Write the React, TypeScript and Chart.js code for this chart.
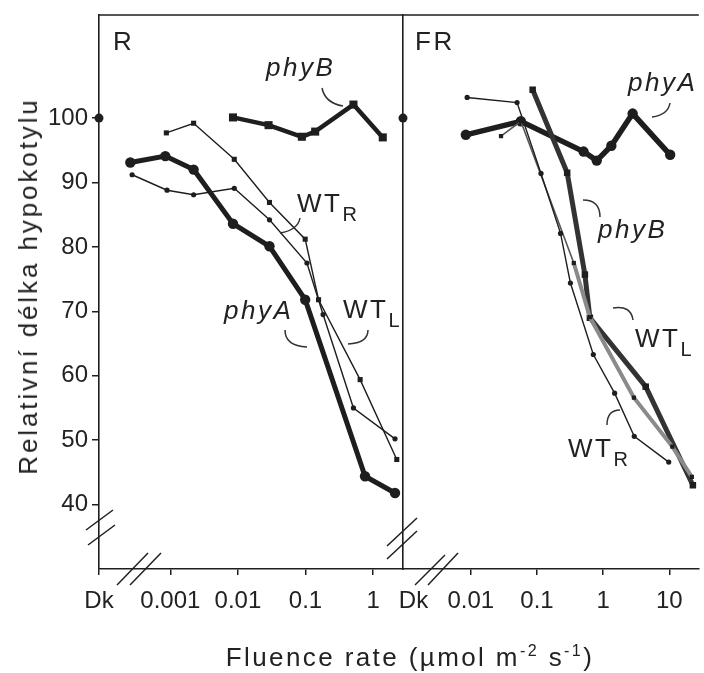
import React, { useEffect, useRef } from 'react';
import { Chart, registerables } from 'chart.js';
Chart.register(...registerables);

// ---------------- data ----------------
// Red light panel (R): fluence rate (µmol m-2 s-1) and relative hypocotyl length (%)
const rDk = 8.8e-5; // position used for the dark control (Dk)
const rMax = 2.77;
const rXTicks = [rDk, 0.001, 0.01, 0.1, 1];
const rXLabels = ['Dk', '0.001', '0.01', '0.1', '1'];

const rPhyAx = [0.000256, 0.000843, 0.00221, 0.00845, 0.0293, 0.0989, 0.76, 2.11];
const rPhyAy = [93.1, 94.1, 92.0, 83.6, 80.1, 71.8, 44.4, 41.8];
const rPhyBx = [0.00845, 0.0284, 0.0883, 0.139, 0.512, 1.39];
const rPhyBy = [100.1, 98.9, 97.1, 97.9, 102.1, 97.0];
const rWTRx = [0.000873, 0.00221, 0.00883, 0.0293, 0.0989, 0.156, 0.643, 2.24];
const rWTRy = [97.7, 99.2, 93.6, 86.9, 81.2, 71.8, 59.4, 47.0];
const rWTLx = [0.000272, 0.000894, 0.00221, 0.00883, 0.0293, 0.105, 0.182, 0.512, 2.11];
const rWTLy = [91.2, 88.8, 88.1, 89.1, 84.2, 77.5, 69.5, 55.0, 50.2];

// Far-red panel (FR)
const frDk = 9.44e-4;
const frDkLabel = 1.36e-3; // where the "Dk" tick label sits
const frMax = 27.9;
const frXTicks = [frDkLabel, 0.01, 0.1, 1, 10];
const frXLabels = ['Dk', '0.01', '0.1', '1', '10'];

const frPhyAx = [0.0084, 0.057, 0.506, 0.8, 1.33, 2.79, 10.3];
const frPhyAy = [97.4, 99.5, 94.8, 93.4, 95.7, 100.7, 94.3];
const frPhyBx = [0.086, 0.286, 0.53, 0.63, 4.4, 22.7];
const frPhyBy = [104.4, 91.5, 75.7, 69.0, 58.3, 43.0];
const frWTLx = [0.0286, 0.057, 0.36, 0.63, 2.92, 11.1, 21.9];
const frWTLy = [97.2, 99.5, 77.5, 69.1, 56.6, 49.0, 44.3];
const frWTRx = [0.0088, 0.05, 0.115, 0.227, 0.32, 0.71, 1.49, 2.95, 9.8];
const frWTRy = [103.2, 102.4, 91.4, 82.1, 74.4, 63.3, 57.3, 50.6, 46.6];

const dkValue = 100;
const yTicks = [40, 50, 60, 70, 80, 90, 100];
const yMin = 30;
const yMax = 116;

// ---------------- styling ----------------
const INK = '#1e1e1e';
const TXT = '#222';
const FONT = '"Liberation Sans", Arial, Helvetica, sans-serif';
const W = 704;
const H = 673;
const PANEL_SPLIT = 403;
const AXIS_LEFT = 99;
const PLOT_TOP = 15;
const PLOT_BOTTOM = 569;

type Note = { t: string; sub?: string; x: number; y: number; italic?: boolean };
type Seg = [number, number, number, number];
type Curve = [number, number, number, number, number, number];

const rNotes: Note[] = [
  { t: 'R', x: 113, y: 50 },
  { t: 'phyB', x: 266, y: 76, italic: true },
  { t: 'WT', sub: 'R', x: 297, y: 212 },
  { t: 'phyA', x: 224, y: 319, italic: true },
  { t: 'WT', sub: 'L', x: 343, y: 318 },
];
const frNotes: Note[] = [
  { t: 'FR', x: 415, y: 50 },
  { t: 'phyA', x: 628, y: 91, italic: true },
  { t: 'phyB', x: 598, y: 238, italic: true },
  { t: 'WT', sub: 'L', x: 635, y: 347 },
  { t: 'WT', sub: 'R', x: 568, y: 457 },
];
const rLeaders: Curve[] = [
  [322, 88, 325, 103, 343, 106],
  [300, 218, 298, 230, 280, 233],
  [285, 330, 285, 346, 307, 347],
  [368, 330, 368, 343, 348, 344],
];
const frLeaders: Curve[] = [
  [670, 103, 668, 115, 652, 117],
  [583, 200, 600, 200, 600, 217],
  [613, 308, 631, 305, 633, 320],
  [620, 410, 607, 410, 607, 425],
];
const rBreaks: Seg[] = [
  [86, 530, 113, 510],
  [88, 545, 115, 525],
  [117, 585, 148, 553],
  [130, 585, 161, 553],
];
const frBreaks: Seg[] = [
  [387, 546, 417, 518],
  [387, 559, 417, 531],
  [415, 585, 445, 555],
  [428, 585, 458, 553],
];

const pts = (xs: number[], ys: number[]) => xs.map((x, i) => ({ x, y: ys[i] }));

function line(data: { x: number; y: number }[], width: number, style: string, radius: number, color = INK) {
  return {
    data,
    borderColor: color,
    borderWidth: width,
    pointStyle: style,
    pointRadius: radius,
    pointBackgroundColor: INK,
    pointBorderColor: INK,
    pointBorderWidth: 0,
    tension: 0,
    clip: false as const,
  };
}

function decor(notes: Note[], leaders: Curve[], breaks: Seg[]) {
  return {
    id: 'decor',
    afterDraw(chart: any) {
      const { ctx, chartArea: a } = chart;
      ctx.save();
      ctx.strokeStyle = INK;
      ctx.lineWidth = 1.6;
      ctx.beginPath();
      ctx.moveTo(a.left, a.top);
      ctx.lineTo(a.right, a.top);
      ctx.stroke();
      ctx.lineWidth = 1.5;
      for (const [x1, y1, x2, y2] of breaks) {
        ctx.beginPath();
        ctx.moveTo(x1, y1);
        ctx.lineTo(x2, y2);
        ctx.stroke();
      }
      ctx.strokeStyle = '#333';
      for (const [x1, y1, cx, cy, x2, y2] of leaders) {
        ctx.beginPath();
        ctx.moveTo(x1, y1);
        ctx.quadraticCurveTo(cx, cy, x2, y2);
        ctx.stroke();
      }
      ctx.fillStyle = TXT;
      ctx.textBaseline = 'alphabetic';
      ctx.textAlign = 'left';
      try { (ctx as any).letterSpacing = '2.5px'; } catch (e) { /* ignore */ }
      for (const n of notes) {
        ctx.font = `${n.italic ? 'italic ' : ''}26px ${FONT}`;
        ctx.fillText(n.t, n.x, n.y);
        if (n.sub) {
          const w = ctx.measureText(n.t).width;
          ctx.font = `20px ${FONT}`;
          ctx.fillText(n.sub, n.x + w, n.y + 9);
        }
      }
      ctx.restore();
    },
  };
}

function xScale(min: number, max: number, ticks: number[], labels: string[], hideFirstTick: boolean) {
  return {
    type: 'logarithmic' as const,
    min,
    max,
    afterBuildTicks: (s: any) => {
      s.ticks = ticks.map((v) => ({ value: v }));
    },
    afterFit: (s: any) => {
      s.height = H - PLOT_BOTTOM;
      s.paddingLeft = 0;
      s.paddingRight = 0;
      s.paddingTop = 0;
      s.paddingBottom = 0;
    },
    ticks: {
      autoSkip: false,
      maxRotation: 0,
      minRotation: 0,
      padding: 12,
      color: TXT,
      font: { family: FONT, size: 24 },
      callback: (_v: any, i: number) => labels[i],
    },
    grid: {
      drawOnChartArea: false,
      drawTicks: true,
      tickLength: 6,
      color: INK,
      tickColor: (c: any) => (hideFirstTick && c.index === 0 ? 'rgba(0,0,0,0)' : INK),
      lineWidth: 1.5,
    },
    border: { display: true, color: INK, width: 1.6 },
  };
}

export default function App() {
  const leftRef = useRef<HTMLCanvasElement>(null);
  const rightRef = useRef<HTMLCanvasElement>(null);

  useEffect(() => {
    const common = {
      animation: false as const,
      responsive: false,
      maintainAspectRatio: false,
      events: [] as any[],
      plugins: { legend: { display: false }, tooltip: { enabled: false } },
    };

    const wtlFR = line(pts(frWTLx, frWTLy), 4, 'rect', 3, '#8a8a8a') as any;
    wtlFR.segment = { borderWidth: (c: any) => (c.p0DataIndex < 2 ? 1.6 : 4), borderColor: (c: any) => (c.p0DataIndex < 2 ? '#555' : '#8a8a8a') };

    const left = new Chart(leftRef.current!, {
      type: 'line',
      data: {
        datasets: [
          line(pts(rWTLx, rWTLy), 1.4, 'circle', 2.6),
          line(pts(rWTRx, rWTRy), 1.4, 'rect', 3.6),
          line(pts(rPhyBx, rPhyBy), 4.5, 'rect', 5.7),
          line(pts(rPhyAx, rPhyAy), 5, 'circle', 5.2),
          { ...line([{ x: rDk, y: dkValue }], 0, 'circle', 4.5), showLine: false },
        ] as any,
      },
      options: {
        ...common,
        layout: { padding: { left: 0, right: W - PANEL_SPLIT, top: PLOT_TOP, bottom: 0 } },
        scales: {
          x: xScale(rDk, rMax, rXTicks, rXLabels, false),
          y: {
            type: 'linear',
            min: yMin,
            max: yMax,
            afterBuildTicks: (s: any) => {
              s.ticks = yTicks.map((v) => ({ value: v }));
            },
            afterFit: (s: any) => {
              s.width = AXIS_LEFT;
              s.paddingTop = 0;
              s.paddingBottom = 0;
              s.paddingLeft = 0;
              s.paddingRight = 0;
            },
            ticks: { padding: 4, color: TXT, font: { family: FONT, size: 24 } },
            grid: { drawOnChartArea: false, drawTicks: true, tickLength: 7, color: INK, lineWidth: 1.5 },
            border: { display: true, color: INK, width: 1.6 },
          },
        },
      } as any,
      plugins: [decor(rNotes, rLeaders, rBreaks)],
    });

    const right = new Chart(rightRef.current!, {
      type: 'line',
      data: {
        datasets: [
          line(pts(frWTRx, frWTRy), 1.4, 'circle', 2.6),
          wtlFR,
          line(pts(frPhyBx, frPhyBy), 5, 'rect', 4.6, '#333'),
          line(pts(frPhyAx, frPhyAy), 5.5, 'circle', 5.2),
          { ...line([{ x: frDk, y: dkValue }], 0, 'circle', 4.5), showLine: false },
        ] as any,
      },
      options: {
        ...common,
        layout: { padding: { left: PANEL_SPLIT, right: 0, top: PLOT_TOP, bottom: 0 } },
        scales: {
          x: xScale(frDk, frMax, frXTicks, frXLabels, true),
          y: {
            type: 'linear',
            min: yMin,
            max: yMax,
            afterFit: (s: any) => {
              s.width = 0;
              s.paddingTop = 0;
              s.paddingBottom = 0;
              s.paddingLeft = 0;
              s.paddingRight = 0;
            },
            ticks: { display: false },
            grid: { drawOnChartArea: false, drawTicks: false },
            border: { display: true, color: INK, width: 1.6 },
          },
        },
      } as any,
      plugins: [decor(frNotes, frLeaders, frBreaks)],
    });

    return () => {
      left.destroy();
      right.destroy();
    };
  }, []);

  return (
    <div style={{ position: 'absolute', left: 0, top: 0, width: W, height: H, background: '#fff', overflow: 'hidden' }}>
      <canvas ref={leftRef} width={W} height={H} style={{ position: 'absolute', left: 0, top: 0 }} />
      <canvas ref={rightRef} width={W} height={H} style={{ position: 'absolute', left: 0, top: 0 }} />
      <div
        style={{
          position: 'absolute',
          left: 28,
          top: 286,
          transform: 'translate(-50%, -50%) rotate(-90deg)',
          whiteSpace: 'nowrap',
          fontFamily: FONT,
          fontSize: 26,
          letterSpacing: '2.9px',
          color: TXT,
          lineHeight: '30px',
        }}
      >
        Relativní délka hypokotylu
      </div>
      <div
        style={{
          position: 'absolute',
          left: 410,
          top: 657,
          transform: 'translate(-50%, -50%)',
          whiteSpace: 'nowrap',
          fontFamily: FONT,
          fontSize: 26,
          letterSpacing: '2.4px',
          color: TXT,
          lineHeight: '30px',
        }}
      >
        Fluence rate (µmol m
        <sup style={{ fontSize: '0.62em', verticalAlign: '0.6em', lineHeight: 0 }}>-2</sup> s
        <sup style={{ fontSize: '0.62em', verticalAlign: '0.6em', lineHeight: 0 }}>-1</sup>)
      </div>
    </div>
  );
}
